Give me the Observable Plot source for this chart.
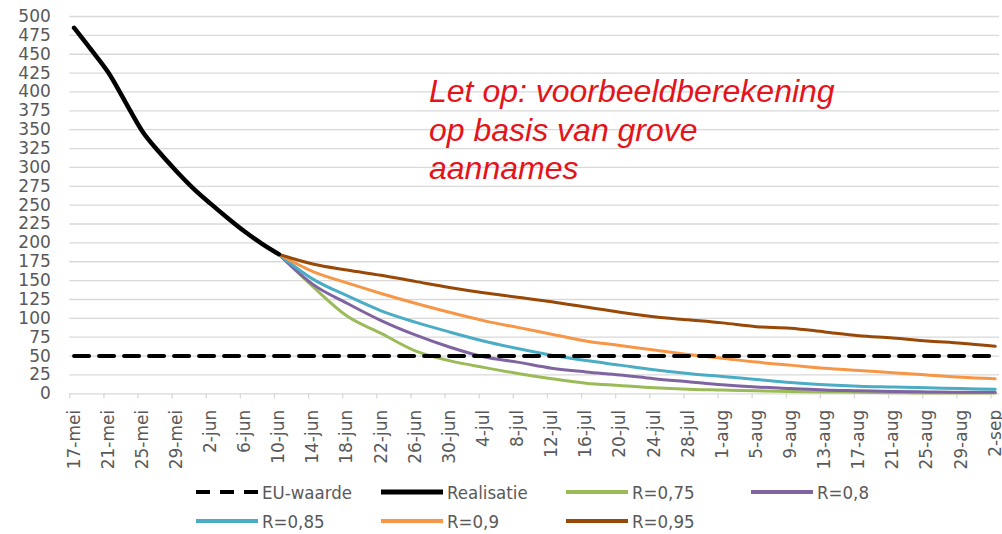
<!DOCTYPE html>
<html>
<head>
<meta charset="utf-8">
<script src="https://cdn.jsdelivr.net/npm/d3@7"></script>
<script src="https://cdn.jsdelivr.net/npm/@observablehq/plot@0.6"></script>
<style>
  body { margin: 0; background: #fff; }
  #wrap { position: relative; width: 1002px; height: 534px; overflow: hidden; background: #fff; }
  #chart svg { display: block; }
  #note { position: absolute; left: 429px; top: 72px; font: italic 32px/38.7px "Liberation Sans", Arial, sans-serif; color: #e4141b; white-space: nowrap; }
  .leg { position: absolute; height: 24px; display: flex; align-items: center; font: 18.5px "DejaVu Sans Condensed", "DejaVu Sans", sans-serif; color: #595959; white-space: nowrap; }
  .leg svg { margin-right: 4px; }
</style>
</head>
<body>
<div id="wrap">
  <div id="chart"></div>
  <div id="note">Let op: voorbeeldberekening<br>op basis van grove<br>aannames</div>
  <div id="legend"></div>
</div>
<script>
// ---- data ----
const monthsNL = ["jan","feb","mrt","apr","mei","jun","jul","aug","sep","okt","nov","dec"];
const xTickDates = ["2020-05-17","2020-05-21","2020-05-25","2020-05-29","2020-06-02","2020-06-06","2020-06-10","2020-06-14","2020-06-18","2020-06-22","2020-06-26","2020-06-30","2020-07-04","2020-07-08","2020-07-12","2020-07-16","2020-07-20","2020-07-24","2020-07-28","2020-08-01","2020-08-05","2020-08-09","2020-08-13","2020-08-17","2020-08-21","2020-08-25","2020-08-29","2020-09-02"];
const yTicks = [0,25,50,75,100,125,150,175,200,225,250,275,300,325,350,375,400,425,450,475,500];

const euWaarde = 50;
const euDates = ["2020-05-17","2020-09-02"];

const realisatieDates = ["2020-05-17","2020-05-19","2020-05-21","2020-05-23","2020-05-25","2020-05-27","2020-05-29","2020-05-31","2020-06-02","2020-06-04","2020-06-06","2020-06-08","2020-06-10"];
const realisatieValues = [485,456,426,387,348,320,295,272,252,233,215,199,185];

const scenarioDates = ["2020-06-10","2020-06-14","2020-06-18","2020-06-22","2020-06-26","2020-06-30","2020-07-04","2020-07-08","2020-07-12","2020-07-16","2020-07-20","2020-07-24","2020-07-28","2020-08-01","2020-08-05","2020-08-09","2020-08-13","2020-08-17","2020-08-21","2020-08-25","2020-08-29","2020-09-02"];
const r075 = [185,142,103,80,57,44,35,27,20,14,11,8,6,5,4,3,2.5,2,1.5,1,1,1];
const r080 = [185,145,120,97,78,62,49,42,34,29,25,20,16,12,9,7,5,4,3,2.5,2,2];
const r085 = [185,152,130,110,95,82,70,60,51,44,38,32,27,23,19,15,12,10,9,8,7,6];
const r090 = [185,162,147,133,120,108,97,88,79,70,64,58,52,47,42,38,34,31,28,25,22,20];
const r095 = [185,172,164,157,149,141,134,128,122,115,108,102,98,94,89,87,82,77,74,70,67,63];

const seriesNames = ["R=0,75","R=0,8","R=0,85","R=0,9","R=0,95"];
const seriesValues = [r075, r080, r085, r090, r095];
const seriesColors = ["#9bbb59","#8064a2","#4bacc6","#f79646","#984807"];

// ---- build ----
const D = s => new Date(s + "T00:00:00Z");
const HALF = 12 * 3600 * 1000;
const fmt = d => `${d.getUTCDate()}-${monthsNL[d.getUTCMonth()]}`;
const tickDates = xTickDates.map(D);
const boundaries = tickDates.map(d => new Date(+d - HALF));

const realisatie = realisatieDates.map((d, i) => ({date: D(d), value: realisatieValues[i]}));
const eu = euDates.map(d => ({date: D(d), value: euWaarde}));
const scenarioMarks = seriesValues.map((vals, k) =>
  Plot.line(scenarioDates.map((d, i) => ({date: D(d), value: vals[i]})),
    {x: "date", y: "value", stroke: seriesColors[k], strokeWidth: 3, curve: "monotone-x"}));

const chart = Plot.plot({
  width: 1002,
  height: 476,
  marginTop: 16,
  marginBottom: 82.7,
  marginLeft: 69.3,
  marginRight: 3,
  x: {type: "utc", domain: [new Date(+D("2020-05-17") - HALF), new Date(+D("2020-09-02") + HALF)]},
  y: {domain: [0, 500]},
  style: {fontFamily: "DejaVu Sans, sans-serif", fontSize: "17px", color: "#595959", background: "#fff", overflow: "visible"},
  marks: [
    Plot.gridY(yTicks, {stroke: "#d9d9d9", strokeOpacity: 1, strokeWidth: 1.3}),
    Plot.ruleX(boundaries, {y1: 0, y2: -7, stroke: "#d9d9d9", strokeWidth: 1.3}),
    Plot.axisY(yTicks, {tickSize: 0, tickPadding: 19, fontSize: 17, fill: "#595959", label: null}),
    Plot.axisX(tickDates, {tickSize: 0, tickRotate: -90, tickPadding: 16, tickFormat: fmt, fontSize: 17, fill: "#595959", label: null}),
    ...scenarioMarks,
    Plot.line(eu, {x: "date", y: "value", stroke: "#000", strokeWidth: 4, strokeDasharray: "15,10"}),
    Plot.line(realisatie, {x: "date", y: "value", stroke: "#000", strokeWidth: 4.5, curve: "monotone-x", strokeLinecap: "round"})
  ]
});
document.getElementById("chart").appendChild(chart);

// ---- legend ----
const legendItems = [
  {name: "EU-waarde", color: "#000", dash: "14,10", w: 4, left: 196, row: 0},
  {name: "Realisatie", color: "#000", dash: null, w: 5, left: 381, row: 0},
  {name: seriesNames[0], color: seriesColors[0], dash: null, w: 4, left: 566, row: 0},
  {name: seriesNames[1], color: seriesColors[1], dash: null, w: 4, left: 751, row: 0},
  {name: seriesNames[2], color: seriesColors[2], dash: null, w: 4, left: 196, row: 1},
  {name: seriesNames[3], color: seriesColors[3], dash: null, w: 4, left: 381, row: 1},
  {name: seriesNames[4], color: seriesColors[4], dash: null, w: 4, left: 566, row: 1}
];
const rowTop = [480, 509];
const leg = document.getElementById("legend");
for (const it of legendItems) {
  const div = document.createElement("div");
  div.className = "leg";
  div.style.left = it.left + "px";
  div.style.top = rowTop[it.row] + "px";
  div.innerHTML = `<svg width="62" height="10"><line x1="0" x2="62" y1="5" y2="5" stroke="${it.color}" stroke-width="${it.w}" ${it.dash ? `stroke-dasharray="${it.dash}"` : ""}/></svg><span>${it.name}</span>`;
  leg.appendChild(div);
}
</script>
</body>
</html>
